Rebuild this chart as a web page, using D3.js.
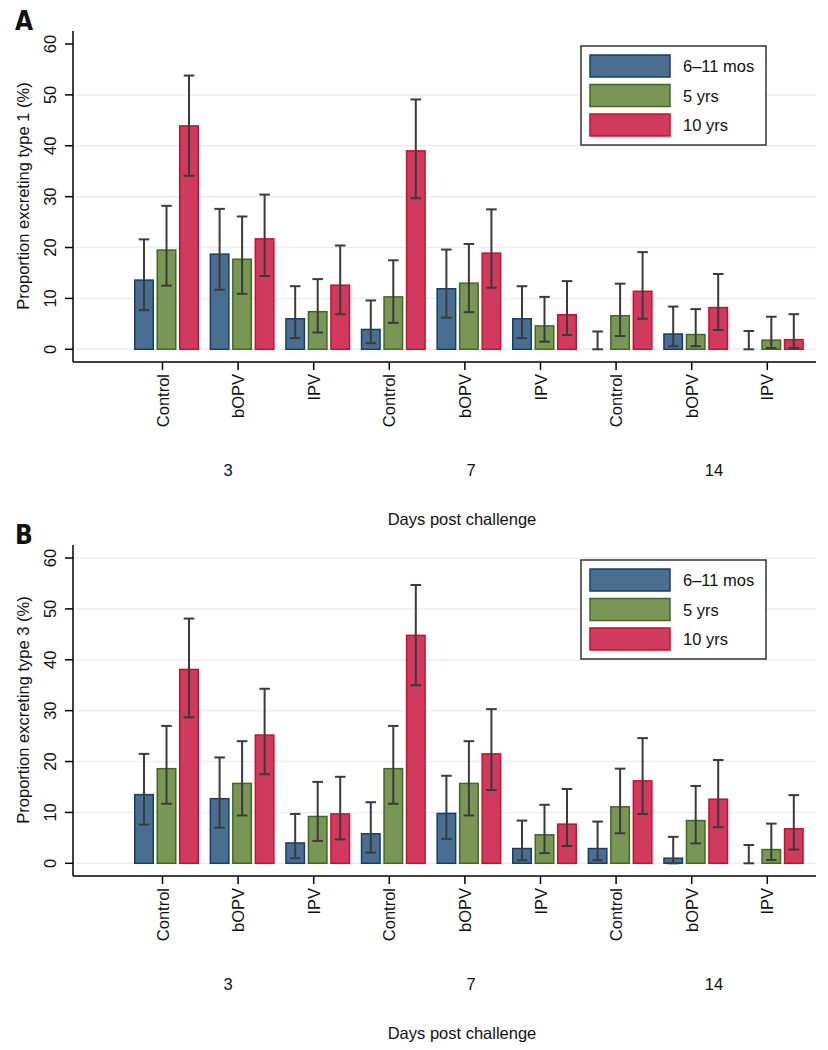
<!DOCTYPE html>
<html>
<head>
<meta charset="utf-8">
<script src="https://cdn.jsdelivr.net/npm/d3@7"></script>
<style>
  html, body { margin: 0; padding: 0; background: #fff; }
  svg { display: block; font-family: "Liberation Sans", Arial, Helvetica, sans-serif; }
</style>
</head>
<body>
<svg id="chart" width="828" height="1050"></svg>
<script>
// ---------- data ----------
const categories = ["Control","bOPV","IPV","Control","bOPV","IPV","Control","bOPV","IPV"];
const days = ["3","7","14"];
const seriesNames = ["6\u201311 mos","5 yrs","10 yrs"];
const yTicks = [0,10,20,30,40,50,60];

// Panel A: type 1
const type1InfantEst = [13.6, 18.7, 6.0, 3.9, 11.9, 6.0, 0, 3.0, 0];
const type1InfantLo  = [7.7, 11.7, 2.2, 1.2, 6.2, 2.2, 0, 0.6, 0];
const type1InfantHi  = [21.6, 27.6, 12.4, 9.6, 19.6, 12.4, 3.5, 8.4, 3.6];
const type1FiveEst   = [19.5, 17.7, 7.4, 10.3, 13.0, 4.6, 6.6, 2.9, 1.8];
const type1FiveLo    = [12.5, 10.9, 3.3, 5.2, 7.3, 1.5, 2.6, 0.6, 0.25];
const type1FiveHi    = [28.2, 26.1, 13.8, 17.5, 20.7, 10.3, 12.9, 7.9, 6.4];
const type1TenEst    = [43.9, 21.7, 12.6, 39.0, 18.9, 6.8, 11.4, 8.2, 1.9];
const type1TenLo     = [34.1, 14.4, 6.9, 29.7, 12.1, 2.8, 6.0, 3.8, 0.25];
const type1TenHi     = [53.8, 30.4, 20.4, 49.1, 27.5, 13.4, 19.1, 14.8, 6.9];

// Panel B: type 3
const type3InfantEst = [13.5, 12.7, 4.0, 5.8, 9.8, 2.9, 2.9, 1.0, 0];
const type3InfantLo  = [7.6, 7.0, 1.0, 2.1, 4.8, 0.6, 0.6, 0, 0];
const type3InfantHi  = [21.5, 20.8, 9.7, 12.0, 17.2, 8.4, 8.2, 5.2, 3.6];
const type3FiveEst   = [18.6, 15.7, 9.2, 18.6, 15.7, 5.6, 11.1, 8.4, 2.7];
const type3FiveLo    = [11.7, 9.4, 4.4, 11.7, 9.4, 2.0, 5.9, 3.9, 0.65];
const type3FiveHi    = [27.0, 24.0, 16.0, 27.0, 24.0, 11.5, 18.6, 15.2, 7.8];
const type3TenEst    = [38.1, 25.2, 9.7, 44.8, 21.5, 7.7, 16.2, 12.6, 6.8];
const type3TenLo     = [28.7, 17.5, 4.7, 35.0, 14.4, 3.4, 9.7, 7.1, 2.7];
const type3TenHi     = [48.1, 34.3, 17.0, 54.7, 30.3, 14.6, 24.6, 20.3, 13.4];

// ---------- styles ----------
const fills   = ["#4a6e8f", "#7a9657", "#cf3a5e"];
const strokes = ["#163e6b", "#41691f", "#c8102e"];
const FONT = 16.5;

const svg = d3.select("#chart");

function buildRows(est, lo, hi) {
  return [0,1,2].map(s => categories.map((c, i) => ({
    group: i, series: s, est: est[s][i], lo: lo[s][i], hi: hi[s][i]
  })));
}

function drawPanel(offsetY, letter, yTitle, rows, gridMax) {
  const g = svg.append("g").attr("transform", `translate(0,${offsetY})`);

  const axisX = 73, axisTop = 31, axisBottom = 362;
  const plotRight = 816;

  const y = d3.scaleLinear().domain([0, 60]).range([349.3, 44]);

  const x = d3.scaleBand()
    .domain(d3.range(categories.length))
    .range([128.7, 809.1])
    .paddingInner(0.14)
    .paddingOuter(0.07);

  const xs = d3.scaleBand()
    .domain([0,1,2])
    .range([0, x.bandwidth()])
    .paddingInner(0.111)
    .paddingOuter(0);

  // gridlines
  g.append("g").selectAll("line")
    .data(yTicks.filter(t => t <= gridMax))
    .join("line")
    .attr("x1", axisX + 3).attr("x2", plotRight)
    .attr("y1", d => y(d)).attr("y2", d => y(d))
    .attr("stroke", "#e6f0f4").attr("stroke-width", 1.5);

  // bars
  const bars = g.append("g");
  rows.forEach((series, s) => {
    bars.selectAll(null)
      .data(series.filter(d => d.est > 0))
      .join("rect")
      .attr("x", d => x(d.group) + xs(s) + 0.75)
      .attr("width", xs.bandwidth() - 1.5)
      .attr("y", d => y(d.est))
      .attr("height", d => y(0) - y(d.est))
      .attr("fill", fills[s])
      .attr("stroke", strokes[s])
      .attr("stroke-width", 1.5);
  });

  // error bars
  const eb = g.append("g").attr("stroke", "#3b3b3b").attr("stroke-width", 2).attr("fill", "none");
  const cap = 5.3;
  rows.forEach((series, s) => {
    series.forEach(d => {
      const cx = x(d.group) + xs(s) + xs.bandwidth() / 2;
      eb.append("line").attr("x1", cx).attr("x2", cx).attr("y1", y(d.lo)).attr("y2", y(d.hi));
      eb.append("line").attr("x1", cx - cap).attr("x2", cx + cap).attr("y1", y(d.hi)).attr("y2", y(d.hi));
      eb.append("line").attr("x1", cx - cap).attr("x2", cx + cap).attr("y1", y(d.lo)).attr("y2", y(d.lo));
    });
  });

  // y axis
  g.append("line").attr("x1", axisX).attr("x2", axisX).attr("y1", axisTop).attr("y2", axisBottom)
    .attr("stroke", "#000").attr("stroke-width", 1.5);
  g.append("g").selectAll("line").data(yTicks).join("line")
    .attr("x1", axisX - 8).attr("x2", axisX).attr("y1", d => y(d)).attr("y2", d => y(d))
    .attr("stroke", "#000").attr("stroke-width", 1.5);
  g.append("g").selectAll("text").data(yTicks).join("text")
    .attr("transform", d => `translate(${axisX - 17},${y(d)}) rotate(-90)`)
    .attr("text-anchor", "middle")
    .attr("font-size", FONT)
    .attr("fill", "#111")
    .text(d => d);

  g.append("text")
    .attr("transform", `translate(29,196) rotate(-90)`)
    .attr("text-anchor", "middle")
    .attr("font-size", FONT)
    .attr("fill", "#111")
    .text(yTitle);

  // x axis
  g.append("line").attr("x1", axisX).attr("x2", plotRight).attr("y1", axisBottom).attr("y2", axisBottom)
    .attr("stroke", "#000").attr("stroke-width", 1.5);
  const tickX = i => x(i) + x.bandwidth() / 2 - 4;
  g.append("g").selectAll("line").data(d3.range(categories.length)).join("line")
    .attr("x1", tickX).attr("x2", tickX).attr("y1", axisBottom).attr("y2", axisBottom + 8)
    .attr("stroke", "#000").attr("stroke-width", 1.5);
  g.append("g").selectAll("text").data(categories).join("text")
    .attr("transform", (d, i) => `translate(${tickX(i) + 6},${axisBottom + 12}) rotate(-90)`)
    .attr("text-anchor", "end")
    .attr("font-size", FONT)
    .attr("fill", "#111")
    .text(d => d);

  // day labels
  const dayScale = d3.scalePoint().domain(days).range([228, 714]);
  g.append("g").selectAll("text").data(days).join("text")
    .attr("x", d => dayScale(d))
    .attr("y", 476)
    .attr("text-anchor", "middle")
    .attr("font-size", FONT)
    .attr("fill", "#111")
    .text(d => d);

  g.append("text")
    .attr("x", 462).attr("y", 525)
    .attr("text-anchor", "middle")
    .attr("font-size", FONT)
    .attr("fill", "#111")
    .text("Days post challenge");

  // legend
  const lg = g.append("g");
  lg.append("rect").attr("x", 581).attr("y", 46).attr("width", 185).attr("height", 99)
    .attr("fill", "#fff").attr("stroke", "#333").attr("stroke-width", 1.5);
  seriesNames.forEach((name, s) => {
    lg.append("rect").attr("x", 590).attr("y", 55 + s * 29.5).attr("width", 80).attr("height", 22)
      .attr("fill", fills[s]).attr("stroke", strokes[s]).attr("stroke-width", 1.5);
    lg.append("text").attr("x", 683).attr("y", 72 + s * 29.5)
      .attr("font-size", FONT).attr("fill", "#111").text(name);
  });

  // panel letter
  g.append("text")
    .attr("x", 15).attr("y", 29.5)
    .attr("font-family", "'Liberation Sans Narrow', 'DejaVu Sans Condensed', sans-serif")
    .attr("font-weight", "bold")
    .attr("font-size", 26)
    .attr("fill", "#111")
    .text(letter);
}

drawPanel(0, "A", "Proportion excreting type 1 (%)",
  buildRows([type1InfantEst, type1FiveEst, type1TenEst],
            [type1InfantLo, type1FiveLo, type1TenLo],
            [type1InfantHi, type1FiveHi, type1TenHi]), 50);

drawPanel(514, "B", "Proportion excreting type 3 (%)",
  buildRows([type3InfantEst, type3FiveEst, type3TenEst],
            [type3InfantLo, type3FiveLo, type3TenLo],
            [type3InfantHi, type3FiveHi, type3TenHi]), 60);
</script>
</body>
</html>
